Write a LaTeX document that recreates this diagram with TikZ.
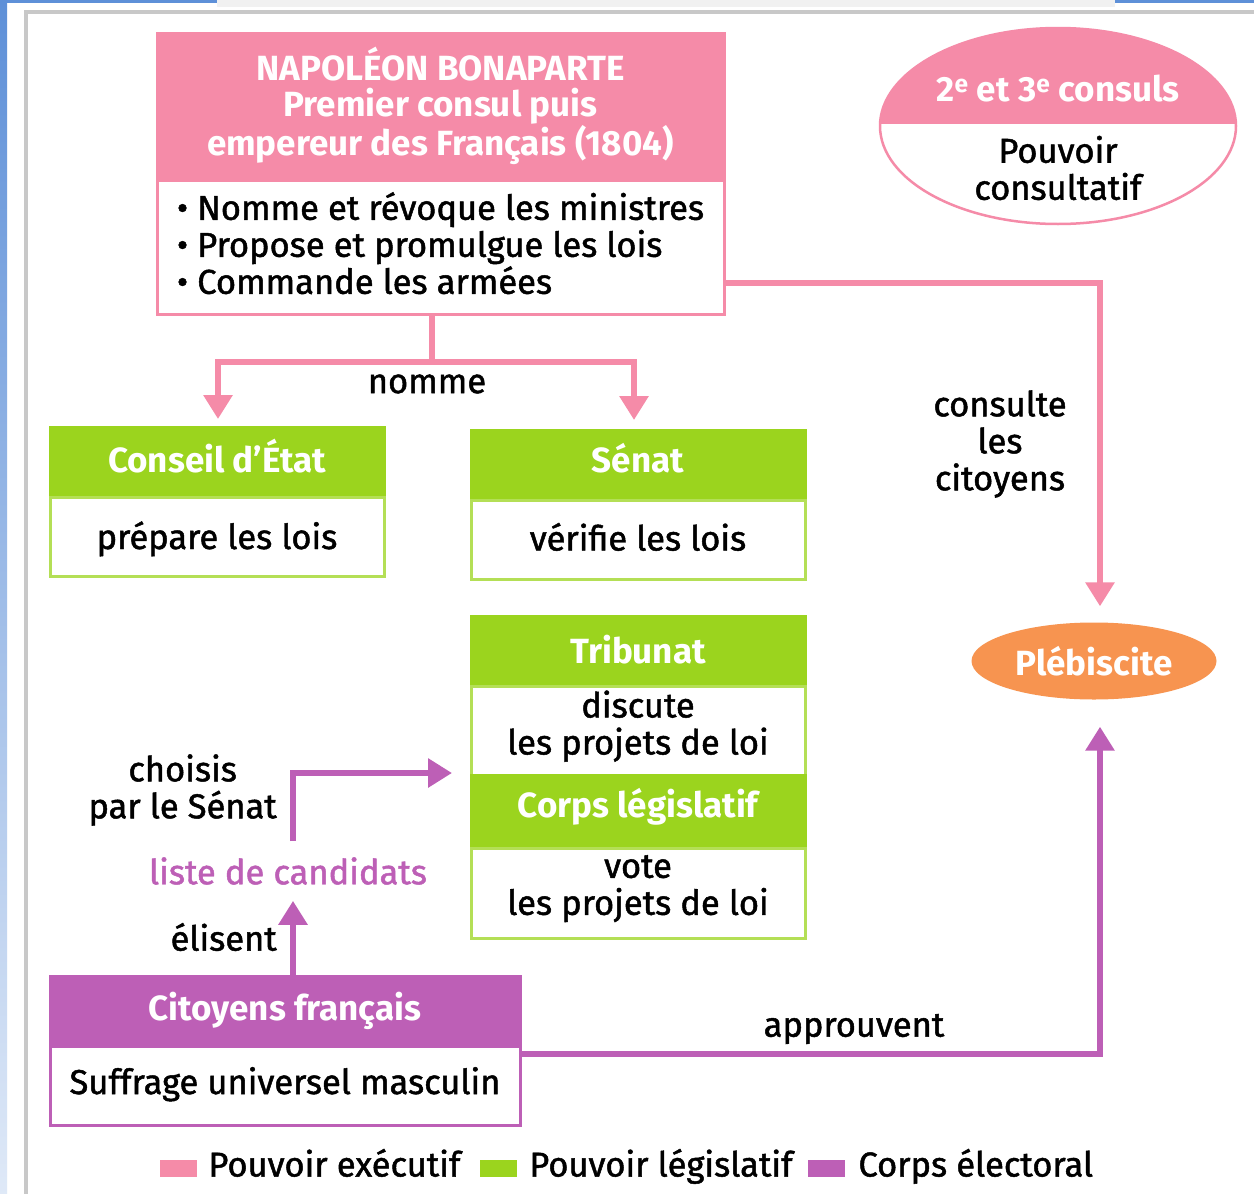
\documentclass[tikz,border=0pt]{standalone}
\usepackage{fontspec}
\setmainfont{Fira Sans}[UprightFeatures={FakeBold=1.4}]
\usetikzlibrary{positioning,arrows.meta,shapes.geometric}
\definecolor{execcol}{HTML}{F58BA8}
\definecolor{legcol}{HTML}{9BD41E}
\definecolor{eleccol}{HTML}{BD5FB6}
\definecolor{plebcol}{HTML}{F79450}
\definecolor{framecol}{HTML}{C8C8C8}
\definecolor{screenblue}{HTML}{5E90D8}
\definecolor{screengrey}{HTML}{F1F1F1}
\newcommand\bodysize{\fontsize{34.5}{37}\selectfont}
\newcommand\headsize{\fontsize{35}{36}\selectfont\bfseries}
\tikzset{
  box/.style={rectangle, line width=3pt, inner sep=0pt, outer sep=0pt, align=center, font=\bodysize, fill=white},
  headbox/.style={box, text=white, font=\headsize},
  oneline/.style={text height=25pt, text depth=#1},
  oneline/.default=3pt,
  exechead/.style={headbox, draw=execcol, fill=execcol},
  execbody/.style={box, draw=execcol},
  leghead/.style={headbox, draw=legcol, fill=legcol, minimum width=334pt, minimum height=70pt},
  legbody/.style={box, draw=legcol!75, minimum width=334pt},
  elechead/.style={headbox, draw=eleccol, fill=eleccol, minimum width=470pt, minimum height=70pt},
  elecbody/.style={box, draw=eleccol, minimum width=470pt, minimum height=79pt},
  label/.style={font=\bodysize, align=center, inner sep=0pt},
  legtext/.style={label, text height=25pt, text depth=8pt},
  legsq/.style={rectangle, minimum width=37pt, minimum height=17pt, inner sep=0pt},
  execline/.style={draw=execcol, line width=6pt},
  execarrow/.style={execline, -{Triangle[width=28pt,length=24pt]}},
  elecarrow/.style={draw=eleccol, line width=6pt, -{Triangle[width=28pt,length=24pt]}},
}
\begin{document}
\begin{tikzpicture}[x=1pt, y=-1pt]
\useasboundingbox (0,0) rectangle (1254,1194);
% screen frame
\fill[white] (0,0) rectangle (1254,1194);
\shade[top color=screenblue, bottom color=screenblue!20] (0,0) rectangle (7,1194);
\fill[screenblue] (0,0) rectangle (217,3);
\fill[screengrey] (217,0) rectangle (1115,7);
\fill[screenblue] (1115,0) rectangle (1254,3);
\draw[framecol, line width=4pt] (1254,12) -- (26,12) -- (26,1194);

% executive
\node[exechead, minimum width=567pt, minimum height=147pt, anchor=north, text depth=10pt] (napH) at (440.5,33)
  {NAPOLÉON BONAPARTE\\Premier consul puis\\empereur des Français (1804)};
\node[execbody, minimum width=567pt, minimum height=134pt, below=0pt of napH, align=left, text depth=8pt] (napB)
  {\textbullet{} Nomme et révoque les ministres\\\textbullet{} Propose et promulgue les lois\\\textbullet{} Commande les armées};
\node[ellipse, draw=execcol, line width=2.5pt, fill=white, minimum width=356pt, minimum height=196pt, inner sep=0pt,
  path picture={\fill[execcol] (path picture bounding box.north west) rectangle ([yshift=2pt]path picture bounding box.east);}]
  (cons) at (1058,126) {};
\node[font=\headsize, text=white, inner sep=0pt] (consT) at (1058,89) {2\textsuperscript{e} et 3\textsuperscript{e} consuls};
\node[label] (consB) at (1058,168) {Pouvoir\\consultatif};

% legislative
\node[leghead, anchor=north, oneline=5pt] (cH) at (217,427) {Conseil d'État};
\node[legbody, minimum height=79pt, below=0pt of cH, oneline=0pt] (cB) {prépare les lois};
\node[leghead, anchor=north, oneline=11pt] (sH) at (638,430) {Sénat};
\node[legbody, minimum height=79pt, below=0pt of sH, oneline] (sB) {vérifie les lois};
\node[leghead, anchor=north, oneline=1pt] (tH) at (638,616) {Tribunat};
\node[legbody, minimum height=89pt, below=0pt of tH, text depth=16pt] (tB) {discute\\les projets de loi};
\node[leghead, minimum height=73pt, below=0pt of tB, oneline=14pt] (clH) {Corps législatif};
\node[legbody, minimum height=90pt, below=0pt of clH, text depth=16pt] (clB) {vote\\les projets de loi};

% electoral
\node[elechead, anchor=north, oneline=7pt] (ciH) at (285,976) {Citoyens français};
\node[elecbody, below=0pt of ciH, oneline=8pt] (ciB) {Suffrage universel masculin};
\node[ellipse, fill=plebcol, minimum width=245pt, minimum height=77pt, inner sep=0pt, text=white, font=\headsize]
  (pleb) at (1094,661) {Plébiscite};
\node[label, text=eleccol, inner ysep=16pt] (liste) at (288,871) {liste de candidats};

%%%%%%%%%%%%%%%%%%%%%%%%%%%%%%%%%%%%%%%%

\coordinate (fork) at (432,362);
\draw[execline] (fork |- napB.south) -- (fork);
\draw[execarrow, shorten >=8pt] (fork) -| ([xshift=1pt]cH.north);
\draw[execarrow, shorten >=10pt] (fork) -| ([xshift=-4pt]sH.north);
\node[label] (nommeL) at (427,384) {nomme};

\draw[execarrow, shorten >=16pt] ([yshift=-36pt]napB.east) -| ([xshift=6pt]pleb.north);
\node[label] (consulteL) at (1000,444) {consulte\\les\\citoyens};

\draw[elecarrow, shorten >=27pt] ([yshift=-8pt]ciB.north east) -| ([xshift=6pt]pleb.south);
\node[label] (approuventL) at (854,1029) {approuvent};

\draw[elecarrow] ([xshift=8pt]ciH.north) -- ([xshift=5pt]liste.south);
\node[label, anchor=east] (elisentL) at (277,937) {élisent};
\draw[elecarrow, shorten >=19pt] ([xshift=5pt]liste.north) |- ([yshift=2pt]tB.south west);
\node[label, anchor=east] (choisisL) at (277,790) {choisis\\par le Sénat};

% legend
\node[legsq, fill=execcol] (lgE) at (178.5,1168) {};
\node[legtext, right=11pt of lgE] (lgEt) {Pouvoir exécutif};
\node[legsq, fill=legcol, right=19pt of lgEt] (lgL) {};
\node[legtext, right=12pt of lgL] (lgLt) {Pouvoir législatif};
\node[legsq, fill=eleccol, right=15pt of lgLt] (lgC) {};
\node[legtext, right=13pt of lgC] (lgCt) {Corps électoral};
\end{tikzpicture}
\end{document}
